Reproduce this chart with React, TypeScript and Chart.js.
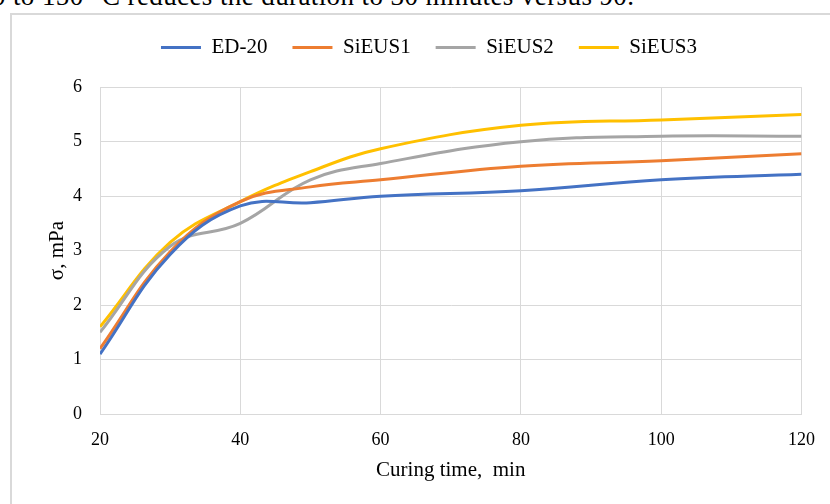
import React, { useEffect, useRef } from "react";
import { Chart, registerables } from "chart.js";

Chart.register(...registerables);

const times = [20, 30, 40, 50, 60, 80, 100, 120];
const ed20 = [1.1, 2.93, 3.82, 3.88, 4.0, 4.1, 4.3, 4.4];
const sieus1 = [1.2, 2.98, 3.9, 4.17, 4.3, 4.55, 4.65, 4.78];
const sieus2 = [1.5, 3.08, 3.5, 4.3, 4.6, 5.0, 5.1, 5.1];
const sieus3 = [1.6, 3.15, 3.9, 4.45, 4.87, 5.3, 5.4, 5.5];

const seriesNames = ["ED-20", "SiEUS1", "SiEUS2", "SiEUS3"];
const seriesColors = ["#4472C4", "#ED7D31", "#A5A5A5", "#FFC000"];
const xTicks = [20, 40, 60, 80, 100, 120];
const yTicks = [0, 1, 2, 3, 4, 5, 6];

const FONT = "'Liberation Serif', 'Times New Roman', serif";

export default function App() {
  const ref = useRef<HTMLCanvasElement>(null);

  useEffect(() => {
    if (!ref.current) return;
    const all = [ed20, sieus1, sieus2, sieus3];
    const chart = new Chart(ref.current, {
      type: "line",
      data: {
        datasets: all.map((vals, i) => ({
          label: seriesNames[i],
          data: vals.map((v, j) => ({ x: times[j], y: v })),
          borderColor: seriesColors[i],
          backgroundColor: seriesColors[i],
          borderWidth: 3,
          pointRadius: 0,
          tension: 0.4,
          fill: false,
        })),
      },
      options: {
        animation: false,
        responsive: false,
        maintainAspectRatio: false,
        layout: { padding: { left: 55, right: 27, top: 12, bottom: 13 } },
        plugins: {
          tooltip: { enabled: false },
          legend: {
            position: "top",
            labels: {
              usePointStyle: true,
              pointStyle: "line",
              pointStyleWidth: 40,
              boxHeight: 21,
              padding: 25,
              color: "#000",
              font: { family: FONT, size: 21 },
            },
          },
          title: {
            display: true,
            text: "",
            position: "top",
            weight: 500,
            font: { size: 1 },
            padding: { top: 0, bottom: 18 },
          } as any,
        },
        scales: {
          x: {
            type: "linear",
            min: 20,
            max: 120,
            afterBuildTicks: (s: any) => {
              s.ticks = xTicks.map((v) => ({ value: v }));
            },
            afterFit: (s: any) => {
              s.height = 77;
            },
            grid: { color: "#d9d9d9", lineWidth: 1, drawTicks: false },
            border: { color: "#d9d9d9", width: 1 },
            ticks: {
              color: "#000",
              padding: 15,
              font: { family: FONT, size: 18 },
              maxRotation: 0,
            },
            title: {
              display: true,
              text: "Curing time,  min",
              color: "#000",
              padding: { top: 7, bottom: 8 },
              font: { family: FONT, size: 21 },
            },
          },
          y: {
            min: 0,
            max: 6,
            afterBuildTicks: (s: any) => {
              s.ticks = yTicks.map((v) => ({ value: v }));
            },
            afterFit: (s: any) => {
              s.width = 45;
            },
            grid: { color: "#d9d9d9", lineWidth: 1, drawTicks: false },
            border: { color: "#d9d9d9", width: 1 },
            ticks: {
              color: "#000",
              padding: 18,
              font: { family: FONT, size: 18 },
            },
            title: {
              display: true,
              text: "σ, mPa",
              color: "#000",
              padding: { top: -10.6, bottom: 0 },
              font: { family: FONT, size: 21 },
            },
          },
        },
      },
    });
    return () => chart.destroy();
  }, []);

  return (
    <div
      style={{
        position: "fixed",
        left: 0,
        top: 0,
        width: 830,
        height: 504,
        overflow: "hidden",
        background: "#fff",
      }}
    >
      <div
        style={{
          position: "absolute",
          left: -22,
          top: -19,
          whiteSpace: "nowrap",
          fontFamily: FONT,
          fontSize: 27,
          letterSpacing: 0.4,
          color: "#000",
        }}
      >
        20 to 150 °C reduces the duration to 30 minutes versus 90.
      </div>
      <div
        style={{
          position: "absolute",
          left: 10,
          top: 13,
          width: 840,
          height: 520,
          border: "2px solid #d9d9d9",
          boxSizing: "border-box",
        }}
      />
      <canvas
        ref={ref}
        width={830}
        height={504}
        style={{ position: "absolute", left: 0, top: 0, width: 830, height: 504 }}
      />
    </div>
  );
}
